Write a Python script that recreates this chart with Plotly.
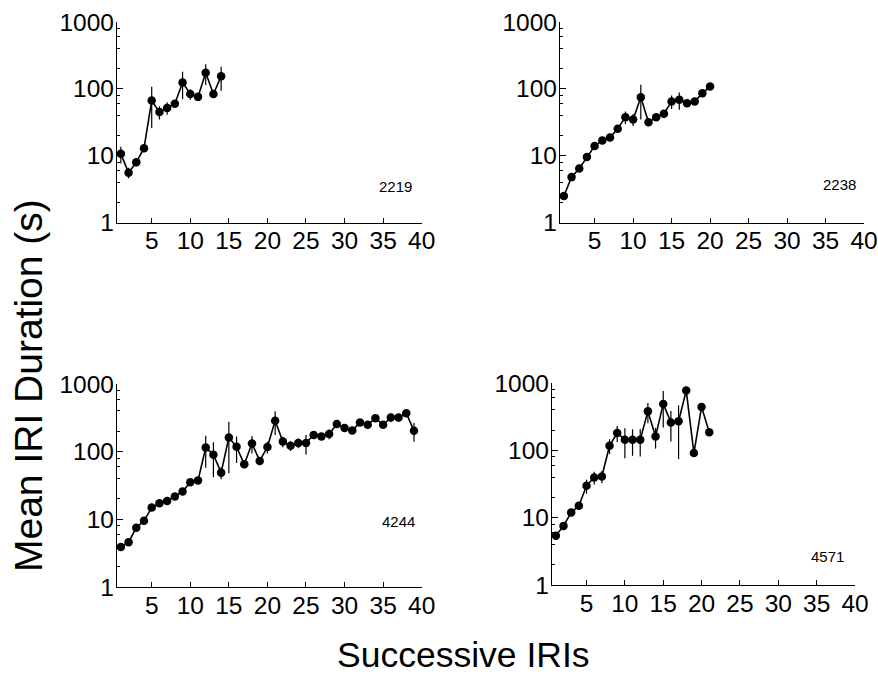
import plotly.graph_objects as go

# ---- data ----
x_2219 = list(range(1, 15))
y_2219 = [10.7, 5.6, 8.0, 13.0, 67, 45, 52, 60, 125, 84, 76, 174, 84, 154]
e_2219 = [3, 1, 1, 1.5, 41, 10, 11, 5, 55, 15, 5, 60, 5, 60]

x_2238 = list(range(1, 21))
y_2238 = [2.5, 4.8, 6.45, 9.6, 14, 17, 18.7, 25.4, 37.8, 35, 75, 31.8, 37.8, 42.5,
          65, 68.6, 61, 65, 86, 109]
e_2238 = [0.3, 0.5, 0.6, 0.8, 1.2, 1.5, 1.5, 2.5, 8, 7, 40, 2, 3, 4, 15, 20, 6, 4, 6, 5]

x_4244 = list(range(1, 40))
y_4244 = [3.9, 4.6, 7.5, 9.5, 14.9, 17.3, 18.7, 21.7, 25.7, 35.4, 37.4, 115, 90, 49,
          162, 118, 65, 132, 73, 117, 286, 141, 122, 134, 134, 177, 167, 182, 257,
          223, 205, 270, 249, 313, 249, 320, 320, 371, 203]
e_4244 = [0.5, 0.4, 0.6, 0.8, 1, 1.2, 1.2, 1.5, 2, 3, 3, 57, 48, 10, 114, 50, 8, 38,
          10, 23, 110, 25, 20, 22, 43, 20, 15, 30, 20, 15, 15, 25, 20, 30, 20, 45,
          45, 45, 63]

x_4571 = list(range(1, 22))
y_4571 = [5.4, 7.55, 11.9, 15, 29.7, 39.5, 41, 117, 181, 144, 144, 144, 379, 161,
          489, 260, 270, 771, 91, 441, 185]
e_4571 = [0.6, 0.6, 1, 1.2, 7, 8.5, 8.5, 29, 48, 68, 61, 63, 127, 55, 270, 125,
          196, 10, 5, 20, 10]

panels = [
    ("2219", x_2219, y_2219, e_2219),
    ("2238", x_2238, y_2238, e_2238),
    ("4244", x_4244, y_4244, e_4244),
    ("4571", x_4571, y_4571, e_4571),
]

x_ticks = [5, 10, 15, 20, 25, 30, 35, 40]
y_ticks = [1, 10, 100, 1000]
y_ticktext = ["1", "10", "100", "1000"]
y_minor = [2, 4, 6, 8, 20, 40, 60, 80, 200, 400, 600, 800]

# ---- layout geometry (pixels in an 878x681 canvas) ----
W, H = 878, 681
boxes = [  # (left, right, top, bottom) in px
    (117, 421.7, 22, 222.7),
    (560, 864, 22, 222.7),
    (117, 421.7, 384, 587),
    (552, 855, 383, 585),
]
label_pos = [(395.5, 186.5), (839, 184.5), (398, 521), (827, 556)]

FONT = "Liberation Sans, Arial, Helvetica, sans-serif"

fig = go.Figure()
layout = dict(
    template="none",
    width=W, height=H,
    margin=dict(l=0, r=0, t=0, b=0, pad=0, autoexpand=False),
    paper_bgcolor="white", plot_bgcolor="white",
    showlegend=False,
    font=dict(family=FONT, color="black"),
)

annotations = []
for i, (name, xs, ys, es) in enumerate(panels):
    k = "" if i == 0 else str(i + 1)
    fig.add_trace(go.Scatter(
        x=xs, y=ys, mode="lines+markers",
        line=dict(color="black", width=1.6),
        marker=dict(color="black", size=8.5),
        error_y=dict(type="data", array=es, visible=True, color="black",
                     thickness=1.2, width=0),
        xaxis="x" + k, yaxis="y" + k,
    ))
    l, r, t, b = boxes[i]
    layout["xaxis" + k] = dict(
        domain=[l / W, r / W], anchor="y" + k, automargin=False,
        range=[0.5, 40], tickvals=x_ticks,
        showline=True, linecolor="black", linewidth=1.3,
        ticks="inside", ticklen=5, tickwidth=1, tickcolor="black",
        ticklabelstandoff=-4,
        showgrid=False, zeroline=False,
        tickfont=dict(size=24.5, family=FONT, color="black"),
    )
    layout["yaxis" + k] = dict(
        domain=[1 - b / H, 1 - t / H], anchor="x" + k, automargin=False,
        type="log", range=[0, 3], tickvals=y_ticks, ticktext=y_ticktext,
        showline=True, linecolor="black", linewidth=1.3,
        ticks="inside", ticklen=6, tickwidth=1, tickcolor="black",
        ticklabelstandoff=-3,
        minor=dict(tickvals=y_minor, ticks="inside", ticklen=3, tickwidth=1,
                   tickcolor="black", showgrid=False),
        showgrid=False, zeroline=False,
        tickfont=dict(size=24.5, family=FONT, color="black"),
    )
    lx, ly = label_pos[i]
    annotations.append(dict(
        text=name, x=lx / W, y=1 - ly / H, xref="paper", yref="paper",
        showarrow=False, font=dict(size=15, family=FONT, color="black"),
        xanchor="center", yanchor="middle",
    ))

annotations.append(dict(
    text="Successive IRIs", x=463 / W, y=1 - 655 / H, xref="paper", yref="paper",
    showarrow=False, font=dict(size=35.5, family=FONT, color="black"),
    xanchor="center", yanchor="middle",
))
annotations.append(dict(
    text="Mean IRI Duration (s)", x=28 / W, y=1 - 386 / H, xref="paper", yref="paper",
    showarrow=False, textangle=-90, font=dict(size=39, family=FONT, color="black"),
    xanchor="center", yanchor="middle",
))
layout["annotations"] = annotations
fig.update_layout(**layout)

fig.write_html("out.html")
